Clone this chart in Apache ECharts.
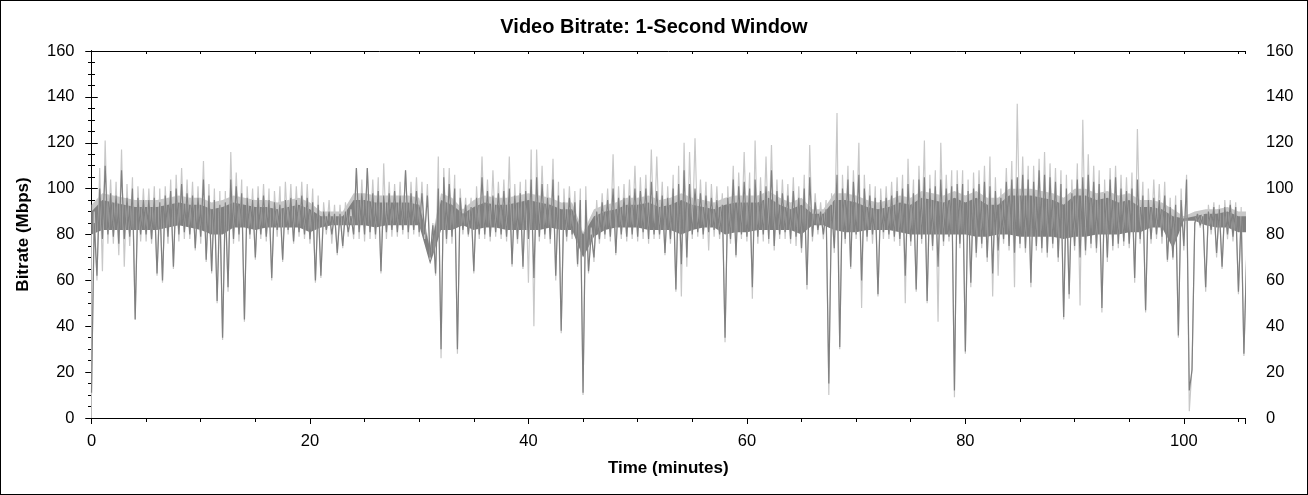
<!DOCTYPE html>
<html>

<head>
	<meta charset="utf-8" />
	<title>Video Bitrate: 1-Second Window</title>
	<script src="https://cdn.jsdelivr.net/npm/echarts@6/dist/echarts.min.js"></script>
	<style>
		body { margin: 0; background: #fff; }
		#wrap { position: relative; width: 1308px; height: 495px; }
		#main { width: 1308px; height: 495px; }
		#frame { position: absolute; left: 0; top: 0; width: 1308px; height: 495px; box-sizing: border-box; border: 1px solid #000; pointer-events: none; }
	</style>
</head>

<body>
	<div id="wrap">
		<div id="main"></div>
		<div id="frame"></div>
	</div>
	<script type="text/javascript">
		// one bucket every 0.5 minute, starting at 0
		var step = 0.5;

		// dark trace: low / high of each bucket (Mbps)
		var darkLo = [
			11, 62, 78, 80, 79, 76, 78, 79, 43, 80,
			80, 78, 63, 60, 79, 66, 80, 81, 80, 74,
			79, 69, 64, 51, 35, 57, 78, 80, 43, 80,
			70, 80, 79, 61, 82, 69, 82, 77, 81, 80,
			78, 60, 62, 82, 80, 72, 75, 81, 80, 81,
			80, 81, 80, 64, 81, 82, 81, 82, 81, 82,
			81, 80, 70, 63, 30, 78, 79, 30, 82, 80,
			64, 80, 80, 79, 81, 80, 79, 67, 78, 66,
			78, 61, 79, 80, 78, 62, 38, 79, 80, 67,
			11, 64, 70, 78, 80, 79, 72, 80, 79, 80,
			79, 81, 78, 80, 80, 72, 78, 56, 67, 70,
			80, 81, 80, 81, 82, 80, 35, 78, 71, 80,
			79, 57, 79, 80, 78, 75, 80, 81, 78, 79,
			74, 58, 79, 82, 80, 15, 74, 31, 78, 66,
			80, 60, 79, 80, 54, 81, 80, 79, 78, 62,
			77, 56, 78, 51, 75, 66, 77, 79, 12, 76,
			29, 59, 72, 76, 70, 63, 73, 78, 75, 72,
			76, 74, 59, 75, 74, 72, 76, 70, 44, 54,
			75, 70, 73, 76, 74, 48, 70, 75, 76, 77,
			76, 61, 78, 47, 78, 80, 79, 69, 70, 36,
			75, 12, 85, 84, 57, 82, 72, 66, 80, 79,
			55, 28
		];
		var darkHi = [
			85, 100, 110, 98, 97, 108, 96, 100, 96, 95,
			95, 96, 94, 97, 99, 100, 102, 98, 97, 96,
			104, 97, 95, 93, 94, 104, 101, 98, 96, 95,
			96, 97, 95, 94, 93, 95, 96, 95, 97, 96,
			94, 93, 90, 90, 89, 89, 90, 88, 109, 98,
			109, 98, 99, 97, 98, 99, 97, 108, 98, 99,
			98, 97, 84, 100, 105, 102, 100, 96, 93, 92,
			96, 105, 99, 97, 98, 99, 100, 97, 98, 99,
			104, 105, 102, 96, 104, 97, 94, 96, 94, 95,
			95, 80, 90, 94, 95, 100, 96, 96, 97, 100,
			99, 100, 103, 99, 97, 96, 100, 102, 108, 102,
			100, 98, 97, 96, 95, 93, 96, 104, 101, 103,
			100, 104, 99, 101, 108, 99, 98, 97, 99, 96,
			100, 105, 94, 90, 91, 93, 106, 100, 104, 103,
			106, 100, 97, 96, 95, 96, 97, 99, 100, 102,
			98, 104, 105, 100, 101, 104, 100, 101, 102, 102,
			99, 100, 102, 103, 101, 99, 96, 103, 104, 105,
			106, 104, 103, 108, 106, 105, 103, 102, 100, 98,
			104, 105, 106, 103, 102, 98, 104, 105, 100, 99,
			100, 104, 97, 95, 96, 95, 97, 92, 93, 95,
			104, 21, 89, 88, 90, 92, 91, 92, 93, 92,
			88, 70
		];

		// light trace: low / high of each bucket (Mbps)
		var lightLo = [
			10, 60, 64, 76, 76, 71, 66, 75, 43, 77,
			77, 76, 62, 59, 76, 65, 77, 78, 78, 73,
			76, 68, 63, 50, 34, 55, 76, 77, 42, 78,
			69, 78, 77, 60, 79, 68, 80, 76, 79, 78,
			76, 59, 61, 80, 76, 71, 74, 79, 78, 78,
			77, 78, 78, 63, 78, 79, 79, 80, 78, 80,
			79, 78, 69, 62, 26, 76, 76, 28, 80, 79,
			63, 78, 78, 77, 79, 78, 77, 66, 76, 65,
			59, 40, 77, 78, 76, 60, 37, 77, 78, 66,
			10, 63, 68, 76, 78, 77, 71, 78, 77, 78,
			77, 78, 76, 78, 78, 71, 76, 55, 53, 66,
			78, 79, 78, 73, 79, 78, 33, 76, 70, 78,
			77, 52, 76, 77, 76, 73, 78, 78, 76, 75,
			72, 56, 77, 80, 78, 10, 72, 30, 76, 65,
			78, 48, 77, 76, 53, 78, 78, 77, 75, 50,
			75, 55, 76, 50, 73, 42, 75, 77, 9, 74,
			28, 57, 70, 74, 68, 53, 62, 76, 73, 57,
			74, 72, 57, 73, 72, 70, 74, 68, 43, 52,
			73, 49, 71, 74, 72, 46, 68, 73, 74, 75,
			74, 59, 76, 46, 76, 78, 76, 68, 69, 35,
			73, 3, 84, 83, 55, 80, 70, 65, 78, 77,
			54, 27
		];
		var lightHi = [
			90, 109, 121, 104, 103, 117, 102, 105, 101, 100,
			100, 101, 100, 101, 104, 106, 109, 104, 103, 101,
			112, 102, 100, 99, 99, 116, 107, 104, 101, 100,
			101, 102, 100, 99, 101, 103, 102, 101, 103, 102,
			100, 97, 94, 95, 93, 93, 94, 91, 109, 104,
			109, 104, 105, 111, 103, 102, 103, 108, 103, 105,
			103, 102, 85, 114, 109, 109, 106, 100, 96, 96,
			101, 114, 104, 108, 103, 104, 114, 102, 103, 104,
			117, 117, 110, 102, 113, 103, 100, 101, 99, 100,
			101, 83, 95, 98, 100, 115, 101, 102, 104, 110,
			105, 106, 117, 114, 103, 101, 106, 110, 120, 116,
			122, 104, 103, 102, 101, 98, 101, 110, 107, 116,
			107, 121, 105, 114, 119, 104, 104, 102, 105, 101,
			106, 119, 98, 94, 95, 98, 133, 106, 110, 108,
			120, 106, 102, 101, 100, 101, 103, 105, 106, 113,
			104, 110, 121, 106, 108, 120, 106, 108, 108, 108,
			104, 107, 108, 110, 114, 105, 100, 109, 112, 137,
			114, 110, 110, 113, 116, 111, 109, 108, 106, 104,
			111, 130, 115, 110, 108, 104, 109, 110, 106, 105,
			107, 126, 103, 100, 104, 102, 103, 96, 97, 100,
			106, 22, 90, 90, 93, 94, 93, 95, 95, 94,
			92, 72
		];

		// solid core of the band, one value per minute (t = 0 .. 106)
		var coreLo = [
			80, 82, 82, 82, 82, 82, 82, 83, 84, 83,
			82, 80, 80, 83, 83, 82, 83, 83, 83, 83,
			81, 83, 84, 84, 84, 84, 83, 84, 84, 84,
			84, 67, 82, 82, 84, 82, 83, 83, 82, 82,
			82, 82, 83, 82, 82, 70, 79, 82, 83, 83,
			83, 82, 82, 82, 80, 82, 83, 83, 80, 81,
			81, 82, 82, 82, 82, 80, 84, 84, 82, 81,
			81, 82, 82, 82, 81, 80, 80, 80, 80, 80,
			80, 79, 79, 80, 80, 79, 79, 79, 79, 78,
			79, 79, 80, 80, 80, 81, 81, 83, 83, 74,
			86, 86, 84, 83, 83, 81, 81
		];
		var coreHi = [
			90, 95, 94, 93, 92, 92, 92, 93, 94, 93,
			93, 91, 92, 94, 93, 92, 92, 91, 92, 93,
			91, 88, 88, 88, 95, 95, 94, 94, 94, 94,
			93, 74, 95, 93, 89, 92, 94, 93, 93, 94,
			95, 94, 93, 91, 91, 80, 88, 90, 91, 93,
			93, 94, 92, 93, 95, 93, 92, 91, 93, 94,
			94, 94, 96, 93, 91, 93, 89, 89, 95, 95,
			94, 92, 91, 92, 94, 93, 96, 95, 94, 96,
			94, 96, 93, 93, 97, 97, 97, 96, 95, 93,
			97, 97, 95, 96, 94, 95, 92, 92, 91, 88,
			87, 88, 89, 89, 90, 88, 88
		];
		var lightCoreHi = [
			93, 98, 97, 96, 95, 95, 95, 96, 97, 96,
			96, 94, 95, 97, 96, 95, 95, 94, 95, 96,
			94, 90, 90, 90, 98, 98, 97, 97, 97, 97,
			96, 75, 98, 96, 91, 95, 97, 96, 96, 97,
			98, 97, 96, 94, 94, 81, 91, 93, 94, 96,
			96, 97, 95, 96, 98, 96, 95, 94, 96, 97,
			97, 97, 99, 96, 94, 96, 91, 91, 98, 98,
			97, 95, 94, 95, 97, 96, 99, 98, 97, 99,
			97, 99, 96, 96, 100, 100, 100, 99, 98, 96,
			100, 100, 98, 99, 97, 98, 95, 95, 94, 91,
			88, 90, 91, 91, 92, 90, 90
		];

		var xMax = 105.6;
		var yTicks = [0, 20, 40, 60, 80, 100, 120, 140, 160];
		var xTicks = [0, 20, 40, 60, 80, 100];

		var font = "'Liberation Sans', Arial, sans-serif";

		// each bucket becomes a low point then a high point
		function trace(lo, hi) {
			var pts = [];
			for (var i = 0; i < lo.length; i++) {
				pts.push([i * step, lo[i]]);
				pts.push([i * step + step / 2, hi[i]]);
			}
			return pts;
		}

		function perMinute(arr) {
			return arr.map(function (v, i) { return [i, v]; });
		}

		// filled area from a core line down to the x axis
		function fill(arr, color) {
			return {
				type: 'line', data: perMinute(arr), symbol: 'none', silent: true,
				lineStyle: { width: 0, opacity: 0 },
				areaStyle: { color: color, opacity: 1, origin: 'start' }
			};
		}

		function yAxis(pos, inside, labels) {
			return {
				type: 'value', position: pos, min: yTicks[0], max: yTicks[yTicks.length - 1], interval: 20,
				axisLine: { show: true, lineStyle: { color: '#000', width: 1 } },
				axisTick: { show: true, inside: inside, length: 6, lineStyle: { color: '#000' } },
				minorTick: { show: true, splitNumber: 4, length: 3.5, lineStyle: { color: '#000' } },
				splitLine: { show: false },
				axisLabel: {
					show: labels, color: '#000', fontSize: 16.5, fontFamily: font,
					margin: pos == 'left' ? 17 : 21
				}
			};
		}

		function xAxis(pos, interval, inside, len, labels) {
			return {
				type: 'value', position: pos, min: 0, max: xMax, interval: interval,
				axisLine: { show: true, onZero: false, lineStyle: { color: '#000', width: 1 } },
				axisTick: { show: true, inside: inside, length: len, lineStyle: { color: '#000' } },
				splitLine: { show: false },
				axisLabel: {
					show: labels, color: '#000', fontSize: 16.5, fontFamily: font, margin: 15,
					formatter: function (v) { return xTicks.indexOf(v) >= 0 ? String(v) : ''; }
				}
			};
		}

		var xs = [
			xAxis('bottom', 20, false, 6, true),
			xAxis('bottom', 20, true, 6, false),
			xAxis('bottom', 5, false, 4, false),
			xAxis('top', 5, true, 3, false)
		];
		xs[0].name = 'Time (minutes)';
		xs[0].nameLocation = 'middle';
		xs[0].nameGap = 42;
		xs[0].nameTextStyle = { color: '#000', fontSize: 17, fontWeight: 'bold', fontFamily: font };

		var ys = [
			yAxis('left', false, true),
			yAxis('left', true, false),
			yAxis('right', false, true),
			yAxis('right', true, false)
		];
		ys[0].name = 'Bitrate (Mbps)';
		ys[0].nameLocation = 'middle';
		ys[0].nameRotate = 90;
		ys[0].nameGap = 60;
		ys[0].nameTextStyle = { color: '#000', fontSize: 17, fontWeight: 'bold', fontFamily: font };

		var myChart = echarts.init(document.getElementById('main'));

		option = {
			animation: false,
			backgroundColor: '#fff',
			title: {
				text: 'Video Bitrate: 1-Second Window',
				left: 'center', top: 12,
				textStyle: { color: '#000', fontSize: 20, fontWeight: 'bold', fontFamily: font }
			},
			grid: { left: 91.5, right: 63, top: 51, bottom: 77 },
			xAxis: xs,
			yAxis: ys,
			series: [
				fill(lightCoreHi, '#c8c8c8'),
				fill(coreHi, '#808080'),
				fill(coreLo, '#ffffff'),
				{
					name: 'light',
					type: 'line',
					data: trace(lightLo, lightHi),
					showSymbol: false,
					symbol: 'none',
					silent: true,
					lineStyle: { color: '#c8c8c8', width: 1.2 }
				}, {
					name: 'dark',
					type: 'line',
					data: trace(darkLo, darkHi),
					showSymbol: false,
					symbol: 'none',
					silent: true,
					lineStyle: { color: '#808080', width: 1.2 }
				}
			]
		};

		myChart.setOption(option);
	</script>
</body>

</html>
